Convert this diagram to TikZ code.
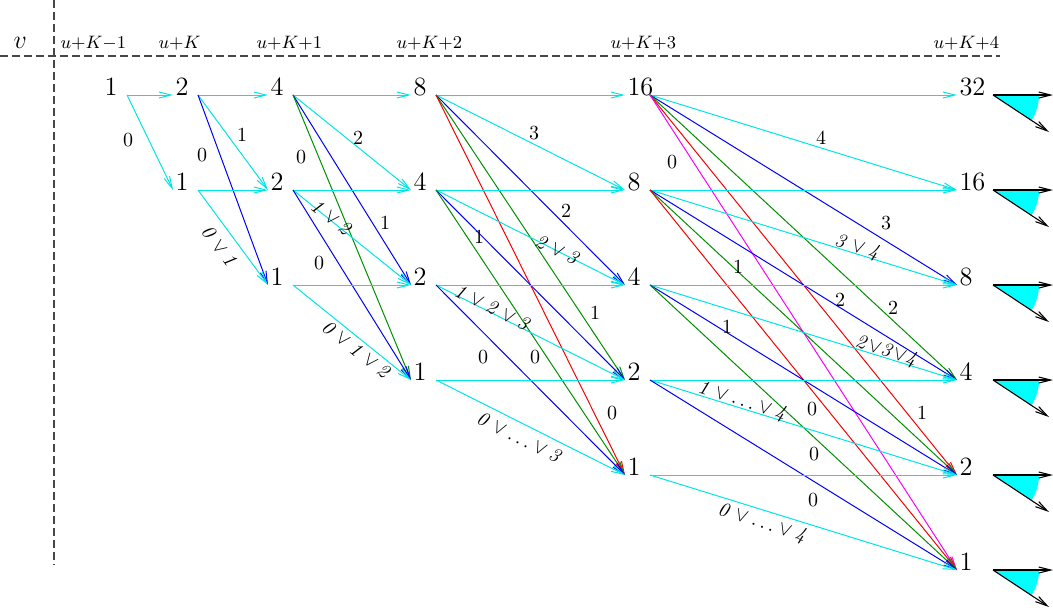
\RequirePackage{fix-cm}
\documentclass[tikz,border=0pt]{standalone}
\usetikzlibrary{arrows.meta}
\definecolor{figcyan}{RGB}{0,230,230}
\definecolor{figfill}{RGB}{0,255,255}
\definecolor{figblue}{RGB}{0,0,255}
\definecolor{figgreen}{RGB}{0,144,0}
\definecolor{figred}{RGB}{255,0,0}
\definecolor{figmagenta}{RGB}{255,0,255}

\begin{document}
\begin{tikzpicture}[x=0.5pt,y=-0.5pt,
    >={Straight Barb[length=6pt,width=3pt]},
    line width=0.5pt,
    num/.style={anchor=base west,inner xsep=1pt,inner ysep=0pt,text width=10pt,font=\fontsize{13.2}{15}\selectfont},
    lbl/.style={inner sep=0pt,font=\fontsize{10}{12}\selectfont},
    hd/.style={anchor=base west,inner sep=0pt,font=\fontsize{9}{11}\selectfont},
    cy/.style={->,figcyan},
    bl/.style={->,figblue},
    gr/.style={->,figgreen},
    rd/.style={->,figred},
    mg/.style={->,figmagenta},
    guide/.style={draw=black!72,line width=0.6pt,dash pattern=on 4pt off 2pt},
    ang/.style={->,black,line width=0.55pt}]
  \useasboundingbox (0,0) rectangle (1053,612);

  % guide lines and heads
  \draw[guide] (0,56) -- (1000,56);
  \draw[guide] (54,0) -- (54,565);
  \node[hd,font=\fontsize{13}{15}\selectfont] (hv) at (13,48) {$v$};
  \node[hd] (h0) at (60,48)  {$u{+}K{-}1$};
  \node[hd] (h1) at (158,48) {$u{+}K$};
  \node[hd] (h2) at (256,48) {$u{+}K{+}1$};
  \node[hd] (h3) at (396,48) {$u{+}K{+}2$};
  \node[hd] (h4) at (610,48) {$u{+}K{+}3$};
  \node[hd] (h5) at (933,48) {$u{+}K{+}4$};

  % columns
  \node[num] (c0r0) at (102,95) {1};
  \node[num] (c1r0) at (173,95)  {2};
  \node[num] (c1r1) at (173,190) {1};
  \node[num] (c2r0) at (268,95)  {4};
  \node[num] (c2r1) at (268,190) {2};
  \node[num] (c2r2) at (268,285) {1};
  \node[num] (c3r0) at (411,95)  {8};
  \node[num] (c3r1) at (411,190) {4};
  \node[num] (c3r2) at (411,285) {2};
  \node[num] (c3r3) at (411,380) {1};
  \node[num] (c4r0) at (625,95)  {16};
  \node[num] (c4r1) at (625,190) {8};
  \node[num] (c4r2) at (625,285) {4};
  \node[num] (c4r3) at (625,380) {2};
  \node[num] (c4r4) at (625,475) {1};
  \node[num] (c5r0) at (957,95)  {32};
  \node[num] (c5r1) at (957,190) {16};
  \node[num] (c5r2) at (957,285) {8};
  \node[num] (c5r3) at (957,380) {4};
  \node[num] (c5r4) at (957,475) {2};
  \node[num] (c5r5) at (957,570) {1};

  % u+K-1 -> u+K
  \draw[cy] (c0r0.base east) -- (c1r0.base west);
  \draw[cy] (c0r0.base east) -- (c1r1.base west);
  % u+K -> u+K+1
  \draw[cy] (c1r0.base east) -- (c2r0.base west);
  \draw[cy] (c1r0.base east) -- (c2r1.base west);
  \draw[bl] (c1r0.base east) -- (c2r2.base west);
  \draw[cy] (c1r1.base east) -- (c2r1.base west);
  \draw[cy] (c1r1.base east) -- (c2r2.base west);
  % u+K+1 -> u+K+2
  \draw[cy] (c2r0.base east) -- (c3r0.base west);
  \draw[cy] (c2r0.base east) -- (c3r1.base west);
  \draw[bl] (c2r0.base east) -- (c3r2.base west);
  \draw[gr] (c2r0.base east) -- (c3r3.base west);
  \draw[cy] (c2r1.base east) -- (c3r1.base west);
  \draw[cy] (c2r1.base east) -- (c3r2.base west);
  \draw[bl] (c2r1.base east) -- (c3r3.base west);
  \draw[cy] (c2r2.base east) -- (c3r2.base west);
  \draw[cy] (c2r2.base east) -- (c3r3.base west);
  % u+K+2 -> u+K+3
  \draw[cy] (c3r0.base east) -- (c4r0.base west);
  \draw[cy] (c3r0.base east) -- (c4r1.base west);
  \draw[bl] (c3r0.base east) -- (c4r2.base west);
  \draw[gr] (c3r0.base east) -- (c4r3.base west);
  \draw[rd] (c3r0.base east) -- (c4r4.base west);
  \draw[cy] (c3r1.base east) -- (c4r1.base west);
  \draw[cy] (c3r1.base east) -- (c4r2.base west);
  \draw[bl] (c3r1.base east) -- (c4r3.base west);
  \draw[gr] (c3r1.base east) -- (c4r4.base west);
  \draw[cy] (c3r2.base east) -- (c4r2.base west);
  \draw[cy] (c3r2.base east) -- (c4r3.base west);
  \draw[bl] (c3r2.base east) -- (c4r4.base west);
  \draw[cy] (c3r3.base east) -- (c4r3.base west);
  \draw[cy] (c3r3.base east) -- (c4r4.base west);
  % u+K+3 -> u+K+4
  \draw[cy] (c4r0.base east) -- (c5r0.base west);
  \draw[cy] (c4r0.base east) -- (c5r1.base west);
  \draw[bl] (c4r0.base east) -- (c5r2.base west);
  \draw[gr] (c4r0.base east) -- (c5r3.base west);
  \draw[rd] (c4r0.base east) -- (c5r4.base west);
  \draw[mg] (c4r0.base east) -- (c5r5.base west);
  \draw[cy] (c4r1.base east) -- (c5r1.base west);
  \draw[cy] (c4r1.base east) -- (c5r2.base west);
  \draw[bl] (c4r1.base east) -- (c5r3.base west);
  \draw[gr] (c4r1.base east) -- (c5r4.base west);
  \draw[rd] (c4r1.base east) -- (c5r5.base west);
  \draw[cy] (c4r2.base east) -- (c5r2.base west);
  \draw[cy] (c4r2.base east) -- (c5r3.base west);
  \draw[bl] (c4r2.base east) -- (c5r4.base west);
  \draw[gr] (c4r2.base east) -- (c5r5.base west);
  \draw[cy] (c4r3.base east) -- (c5r3.base west);
  \draw[cy] (c4r3.base east) -- (c5r4.base west);
  \draw[bl] (c4r3.base east) -- (c5r5.base west);
  \draw[cy] (c4r4.base east) -- (c5r4.base west);
  \draw[cy] (c4r4.base east) -- (c5r5.base west);

  % edge labels
  \node[lbl] (l0a) at (128,140) {0};
  \node[lbl] (l1a) at (242,135) {1};
  \node[lbl] (l1b) at (202,155) {0};
  \node[lbl,rotate=-53.2] (l1c) at (220,247) {$\mathit{0}\vee\mathit{1}$};
  \node[lbl] (l2a) at (301,157) {0};
  \node[lbl] (l2b) at (358,138) {2};
  \node[lbl,rotate=-38.6] (l2c) at (332,218) {$\mathit{1}\vee\mathit{2}$};
  \node[lbl] (l2d) at (385,223) {1};
  \node[lbl] (l2e) at (319,263) {0};
  \node[lbl,rotate=-38.6] (l2f) at (357,350) {$\mathit{0}\vee\mathit{1}\vee\mathit{2}$};
  \node[lbl] (l3a) at (534,133) {3};
  \node[lbl] (l3b) at (566,211) {2};
  \node[lbl] (l3c) at (479,237) {1};
  \node[lbl,rotate=-26.6] (l3d) at (558,250) {$\mathit{2}\vee\mathit{3}$};
  \node[lbl,rotate=-26.6] (l3e) at (493,308) {$\mathit{1}\vee\mathit{2}\vee\mathit{3}$};
  \node[lbl] (l3f) at (595,313) {1};
  \node[lbl] (l3g) at (483,357) {0};
  \node[lbl] (l3h) at (535,357) {0};
  \node[lbl] (l3i) at (612,413) {0};
  \node[lbl,rotate=-26.6] (l3j) at (520,438) {$\mathit{0}\vee\ldots\vee\mathit{3}$};
  \node[lbl] (l4a) at (821,138) {4};
  \node[lbl] (l4b) at (672,162) {0};
  \node[lbl] (l4c) at (886,223) {3};
  \node[lbl,rotate=-17.1] (l4d) at (858,248) {$\mathit{3}\vee\mathit{4}$};
  \node[lbl] (l4e) at (738,267) {1};
  \node[lbl] (l4f) at (840,300) {2};
  \node[lbl] (l4g) at (893,308) {2};
  \node[lbl] (l4h) at (727,327) {1};
  \node[lbl,rotate=-17.1] (l4i) at (887,352) {$\mathit{2}{\vee}\mathit{3}{\vee}\mathit{4}$};
  \node[lbl,rotate=-17.1] (l4j) at (743,402) {$\mathit{1}\vee\ldots\vee\mathit{4}$};
  \node[lbl] (l4k) at (922,413) {1};
  \node[lbl] (l4l) at (812,409) {0};
  \node[lbl] (l4m) at (814,454) {0};
  \node[lbl] (l4n) at (813,500) {0};
  \node[lbl,rotate=-17.1] (l4o) at (763,524) {$\mathit{0}\vee\ldots\vee\mathit{4}$};

  % angles on the right
  \path (c5r0.base east) ++(11,0) coordinate (w0);
  \path (c5r1.base east) ++(11,0) coordinate (w1);
  \path (c5r2.base east) ++(11,0) coordinate (w2);
  \path (c5r3.base east) ++(11,0) coordinate (w3);
  \path (c5r4.base east) ++(11,0) coordinate (w4);
  \path (c5r5.base east) ++(11,0) coordinate (w5);
  \fill[figfill] (w0) -- ++(46,0) arc[start angle=0,end angle=33.5,radius=46] -- cycle;
  \fill[figfill] (w1) -- ++(46,0) arc[start angle=0,end angle=33.5,radius=46] -- cycle;
  \fill[figfill] (w2) -- ++(46,0) arc[start angle=0,end angle=33.5,radius=46] -- cycle;
  \fill[figfill] (w3) -- ++(46,0) arc[start angle=0,end angle=33.5,radius=46] -- cycle;
  \fill[figfill] (w4) -- ++(46,0) arc[start angle=0,end angle=33.5,radius=46] -- cycle;
  \fill[figfill] (w5) -- ++(46,0) arc[start angle=0,end angle=33.5,radius=46] -- cycle;
  \draw[ang] (w0) -- ++(60,0);  \draw[ang] (w0) -- ++(56,37);
  \draw[ang] (w1) -- ++(60,0);  \draw[ang] (w1) -- ++(56,37);
  \draw[ang] (w2) -- ++(60,0);  \draw[ang] (w2) -- ++(56,37);
  \draw[ang] (w3) -- ++(60,0);  \draw[ang] (w3) -- ++(56,37);
  \draw[ang] (w4) -- ++(60,0);  \draw[ang] (w4) -- ++(56,37);
  \draw[ang] (w5) -- ++(60,0);  \draw[ang] (w5) -- ++(56,37);
\end{tikzpicture}
\end{document}
